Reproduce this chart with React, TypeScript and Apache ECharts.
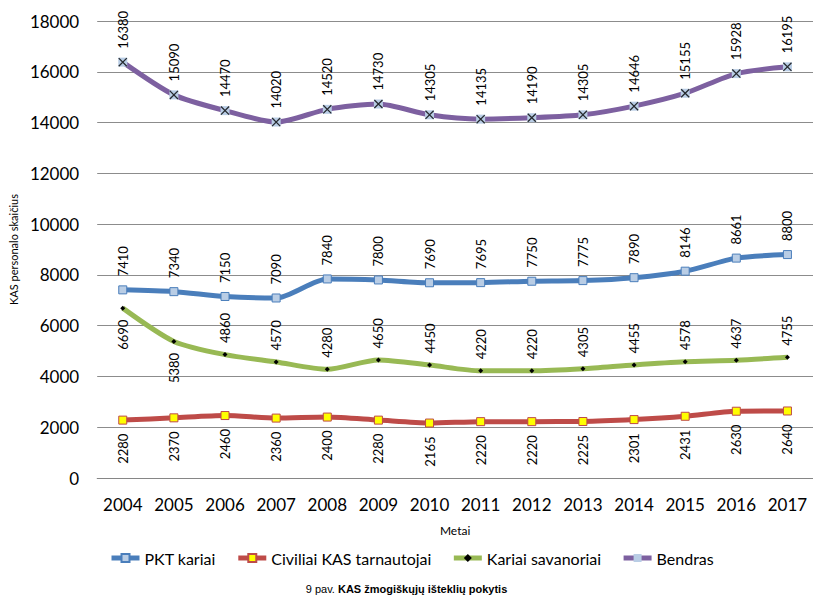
import React, { useEffect, useRef } from "react";
import * as echarts from "echarts";

const years = ["2004","2005","2006","2007","2008","2009","2010","2011","2012","2013","2014","2015","2016","2017"];
const pkt = [7410, 7340, 7150, 7090, 7840, 7800, 7690, 7695, 7750, 7775, 7890, 8146, 8661, 8800];
const civiliai = [2280, 2370, 2460, 2360, 2400, 2280, 2165, 2220, 2220, 2225, 2301, 2431, 2630, 2640];
const savanoriai = [6690, 5380, 4860, 4570, 4280, 4650, 4450, 4220, 4220, 4305, 4455, 4578, 4637, 4755];
const bendras = [16380, 15090, 14470, 14020, 14520, 14730, 14305, 14135, 14190, 14305, 14646, 15155, 15928, 16195];
const yTicks = [0, 2000, 4000, 6000, 8000, 10000, 12000, 14000, 16000, 18000];

const FONT = "Lato, 'Liberation Sans', sans-serif";
const X_PATH = "path://M0,1 L1,0 L10,9 L9,10 Z M9,0 L10,1 L1,10 L0,9 Z";

const labelUp = { show: true, rotate: 90, position: "top", align: "left", verticalAlign: "middle", distance: 9, fontSize: 13, color: "#000", fontFamily: FONT };
const labelDown = { show: true, rotate: 90, position: "bottom", align: "right", verticalAlign: "middle", distance: 9, fontSize: 13, color: "#000", fontFamily: FONT };

export default function App() {
  const ref = useRef<HTMLDivElement>(null);
  useEffect(() => {
    const chart = echarts.init(ref.current!, null, { renderer: "svg" });
    chart.setOption({
      animation: false,
      textStyle: { fontFamily: FONT },
      grid: { left: 93, right: -5, top: 21, bottom: 119 },
      xAxis: {
        type: "category",
        data: years,
        boundaryGap: true,
        name: "Metai",
        nameLocation: "middle",
        nameGap: 46,
        nameTextStyle: { fontSize: 12, color: "#000", fontFamily: FONT },
        axisLine: { lineStyle: { color: "#868686" } },
        axisTick: { show: false },
        axisLabel: { fontSize: 17, color: "#000", margin: 18, interval: 0, fontFamily: FONT },
      },
      yAxis: {
        type: "value",
        min: yTicks[0],
        max: yTicks[yTicks.length - 1],
        interval: 2000,
        name: "KAS personalo skaičius",
        nameLocation: "middle",
        nameGap: 74,
        nameTextStyle: { fontSize: 11, color: "#000", fontFamily: FONT },
        axisLine: { show: false },
        axisTick: { show: false },
        splitLine: { lineStyle: { color: "#8c8c8c", width: 1 } },
        axisLabel: { fontSize: 17, color: "#000", margin: 18, fontFamily: FONT, formatter: (v: number) => String(v) },
      },
      legend: {
        bottom: 26,
        left: 104,
        itemWidth: 28,
        itemHeight: 10,
        itemGap: 20,
        lineStyle: { width: 5 },
        textStyle: { fontSize: 16, color: "#000", fontFamily: FONT },
        data: ["PKT kariai", "Civiliai KAS tarnautojai", "Kariai savanoriai", "Bendras"],
      },
      series: [
        {
          name: "PKT kariai",
          type: "line",
          data: pkt,
          smooth: 0.25,
          lineStyle: { color: "#4A7EBB", width: 5 },
          itemStyle: { color: "#B9CDE5", borderColor: "#4A7EBB", borderWidth: 1 },
          color: "#4A7EBB",
          symbol: "rect",
          symbolSize: 8,
          label: labelUp,
        },
        {
          name: "Civiliai KAS tarnautojai",
          type: "line",
          data: civiliai,
          smooth: 0.25,
          lineStyle: { color: "#BE4B48", width: 5 },
          itemStyle: { color: "#FFFF00", borderColor: "#BE4B48", borderWidth: 1 },
          color: "#BE4B48",
          symbol: "rect",
          symbolSize: 8,
          label: labelDown,
        },
        {
          name: "Kariai savanoriai",
          type: "line",
          data: savanoriai.map((v, i) => ({ value: v, label: i < 2 ? labelDown : labelUp })),
          smooth: 0.25,
          lineStyle: { color: "#98B954", width: 5 },
          itemStyle: { color: "#000", borderColor: "#000", borderWidth: 0 },
          color: "#98B954",
          symbol: "diamond",
          symbolSize: 5,
          label: labelUp,
        },
        {
          name: "Bendras",
          type: "line",
          data: bendras,
          smooth: 0.25,
          lineStyle: { color: "#7D60A0", width: 5 },
          itemStyle: { color: "#B9CDE5", borderColor: "#B9CDE5", borderWidth: 0 },
          color: "#7D60A0",
          symbol: "rect",
          symbolSize: 9,
          label: labelUp,
        },
        {
          name: "BendrasX",
          type: "scatter",
          data: bendras,
          symbol: X_PATH,
          symbolSize: 9,
          itemStyle: { color: "#000" },
          silent: true,
          z: 5,
        },
      ],
      graphic: [
        {
          type: "text",
          left: "center",
          top: 583,
          style: {
            text: "{a|9 pav. }{b|KAS žmogiškųjų išteklių pokytis}",
            rich: {
              a: { fontSize: 11, fontFamily: "'Liberation Sans', Arial, sans-serif", fill: "#000" },
              b: { fontSize: 11, fontWeight: "bold", fontFamily: "'Liberation Sans', Arial, sans-serif", fill: "#000" },
            },
          },
        },
      ],
    });
    return () => chart.dispose();
  }, []);
  return <div ref={ref} style={{ width: 813, height: 597, position: "absolute", left: 0, top: 0 }} />;
}
